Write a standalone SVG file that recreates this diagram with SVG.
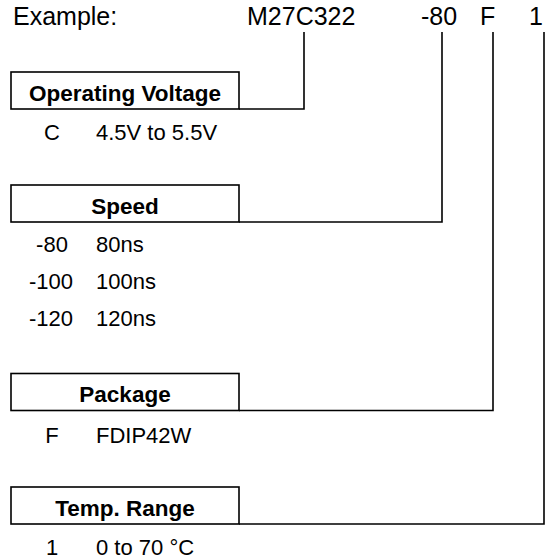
<svg xmlns="http://www.w3.org/2000/svg" width="550" height="559" viewBox="0 0 550 559">
<style>
.t{font-family:"Liberation Sans",Arial,sans-serif;font-size:22px;fill:#000}
.h{font-family:"Liberation Sans",Arial,sans-serif;font-size:25px;fill:#000}
.b{font-family:"Liberation Sans",Arial,sans-serif;font-size:22.5px;font-weight:bold;fill:#000;text-anchor:middle}
.m{text-anchor:middle}
.box{fill:none;stroke:#000;stroke-width:1.6}
.ln{fill:none;stroke:#000;stroke-width:1.6}
</style>
<rect width="550" height="559" fill="#fff"/>
<g id="header">
<text class="h" x="13" y="25">Example:</text>
<text class="h" x="247" y="25">M27C322</text>
<text class="h" x="421" y="25">-80</text>
<text class="h" x="480" y="25">F</text>
<text class="h" x="529" y="25">1</text>
</g>
<g id="connectors">
<path class="ln" d="M304 32 V109 H239"/>
<path class="ln" d="M442 32 V222 H239"/>
<path class="ln" d="M493 32 V410.5 H239"/>
<path class="ln" d="M544 32 V524 H239"/>
</g>
<g id="operating-voltage">
<rect class="box" x="11" y="72" width="228" height="37"/>
<text class="b" x="125" y="101">Operating Voltage</text>
<text class="t m" x="52" y="140">C</text>
<text class="t" x="96" y="140">4.5V to 5.5V</text>
</g>
<g id="speed">
<rect class="box" x="11" y="185" width="228" height="37"/>
<text class="b" x="125" y="214">Speed</text>
<text class="t m" x="52" y="252">-80</text>
<text class="t" x="96" y="252">80ns</text>
<text class="t m" x="51" y="289">-100</text>
<text class="t" x="96" y="289">100ns</text>
<text class="t m" x="51" y="326">-120</text>
<text class="t" x="96" y="326">120ns</text>
</g>
<g id="package">
<rect class="box" x="11" y="373.5" width="228" height="37"/>
<text class="b" x="125" y="402">Package</text>
<text class="t m" x="52" y="443">F</text>
<text class="t" x="96" y="443">FDIP42W</text>
</g>
<g id="temp-range">
<rect class="box" x="11" y="487" width="228" height="37"/>
<text class="b" x="125" y="516">Temp. Range</text>
<text class="t m" x="52" y="555">1</text>
<text class="t" x="96" y="555">0 to 70 °C</text>
</g>
</svg>
